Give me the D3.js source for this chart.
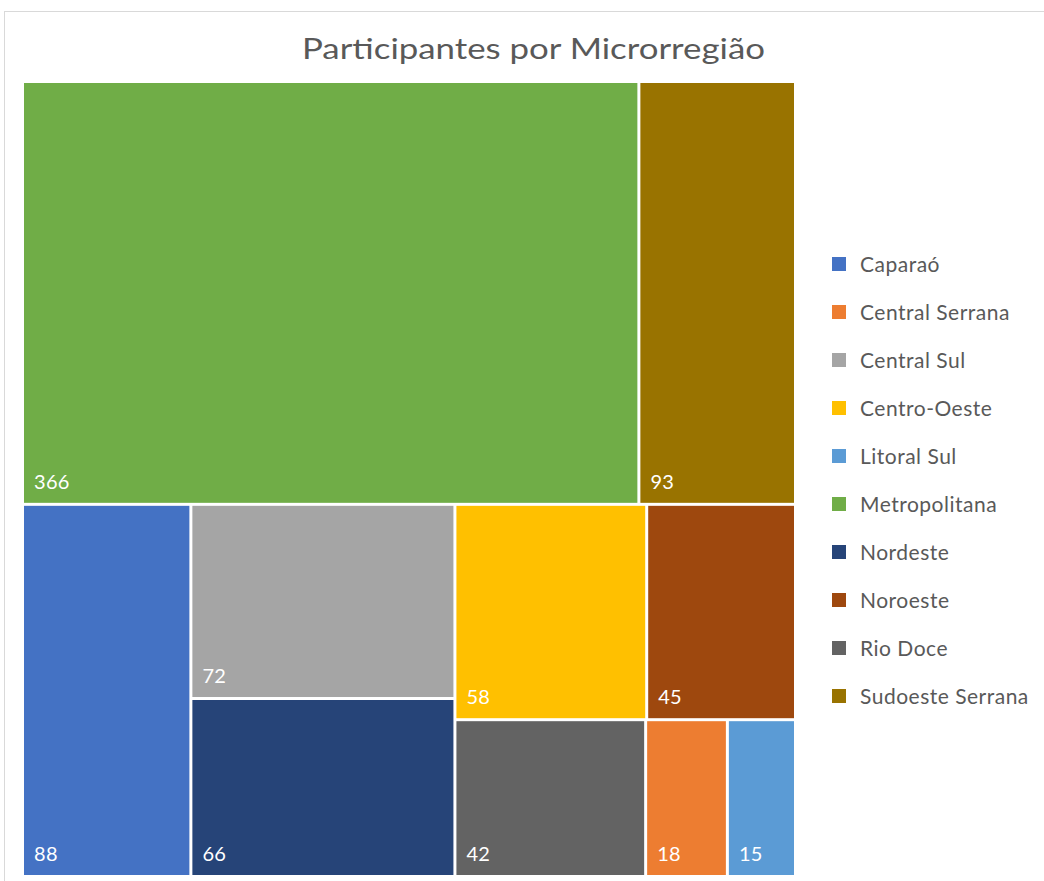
<!DOCTYPE html>
<html>
<head>
<meta charset="utf-8">
<script src="https://cdn.jsdelivr.net/npm/d3@7"></script>
<style>
  body { margin: 0; background: #fff; }
  svg { display: block; font-family: Lato, "Open Sans", sans-serif; }
</style>
</head>
<body>
<div id="chart"></div>
<script>
// dados
var categorias = ['Caparaó','Central Serrana','Central Sul','Centro-Oeste','Litoral Sul',
                  'Metropolitana','Nordeste','Noroeste','Rio Doce','Sudoeste Serrana'];
var participantes = [88, 18, 72, 58, 15, 366, 66, 45, 42, 93];
var cores = ['#4472C4','#ED7D31','#A5A5A5','#FFC000','#5B9BD5',
             '#70AD47','#264478','#9E480E','#636363','#997300'];
var titulo = 'Participantes por Microrregião';

// agrupamento das linhas do treemap (estilo Excel): n itens, direção
var grupos = [{n:2,dir:'h'},{n:1,dir:'v'},{n:2,dir:'v'},{n:2,dir:'h'},{n:3,dir:'h'}];

var width = 1044, height = 881;
var margin = {top: 83, left: 24};
var plotW = 770, plotH = 792;

var svg = d3.select('#chart').append('svg')
    .attr('width', width)
    .attr('height', height);

// moldura do gráfico
svg.append('rect')
    .attr('x', 4.5).attr('y', 11.5)
    .attr('width', 1100).attr('height', 1000)
    .attr('fill', 'none')
    .attr('stroke', '#d9d9d9');

svg.append('text')
    .attr('x', 533.5).attr('y', 59)
    .attr('text-anchor', 'middle')
    .attr('fill', '#595959')
    .attr('textLength', 463)
    .attr('lengthAdjust', 'spacingAndGlyphs')
    .style('font-size', '29px')
    .text(titulo);

var color = d3.scaleOrdinal().domain(categorias).range(cores);

function tileExcel(parent, x0, y0, x1, y1) {
    var nodes = parent.children, i = 0, value = parent.value;
    grupos.forEach(function (g) {
        var kids = nodes.slice(i, i + g.n);
        var row = {value: d3.sum(kids, function (d) { return d.value; }), children: kids};
        if (g.dir === 'h') {
            var yy = y0 + (y1 - y0) * row.value / value;
            d3.treemapDice(row, x0, y0, x1, yy);
            y0 = yy;
        } else {
            var xx = x0 + (x1 - x0) * row.value / value;
            d3.treemapSlice(row, x0, y0, xx, y1);
            x0 = xx;
        }
        value -= row.value;
        i += g.n;
    });
}

var dados = categorias.map(function (c, i) { return {nome: c, valor: participantes[i]}; });
var root = d3.hierarchy({children: dados})
    .sum(function (d) { return d.valor || 0; })
    .sort(function (a, b) { return b.value - a.value; });

d3.treemap()
    .size([plotW, plotH])
    .paddingInner(3)
    .tile(tileExcel)(root);

var board = svg.append('g')
    .attr('transform', 'translate(' + margin.left + ',' + margin.top + ')');

var cell = board.selectAll('g.cell')
    .data(root.leaves())
    .enter().append('g')
    .attr('class', 'cell');

cell.append('rect')
    .attr('x', function (d) { return d.x0; })
    .attr('y', function (d) { return d.y0; })
    .attr('width', function (d) { return d.x1 - d.x0; })
    .attr('height', function (d) { return d.y1 - d.y0; })
    .attr('fill', function (d) { return color(d.data.nome); });

cell.append('text')
    .attr('x', function (d) { return d.x0 + 10; })
    .attr('y', function (d) { return d.y1 - 14; })
    .attr('fill', '#fff')
    .style('font-size', '20px')
    .style('letter-spacing', '0.3px')
    .text(function (d) { return d.value; });

// legenda
var legenda = svg.append('g')
    .attr('transform', 'translate(832,257)');

var item = legenda.selectAll('g')
    .data(categorias)
    .enter().append('g')
    .attr('transform', function (d, i) { return 'translate(0,' + (i * 48.0) + ')'; });

item.append('rect')
    .attr('width', 14).attr('height', 14)
    .attr('fill', function (d) { return color(d); });

item.append('text')
    .attr('x', 28).attr('y', 14.5)
    .attr('fill', '#595959')
    .style('font-size', '21px')
    .style('letter-spacing', '0.5px')
    .text(function (d) { return d; });
</script>
</body>
</html>
